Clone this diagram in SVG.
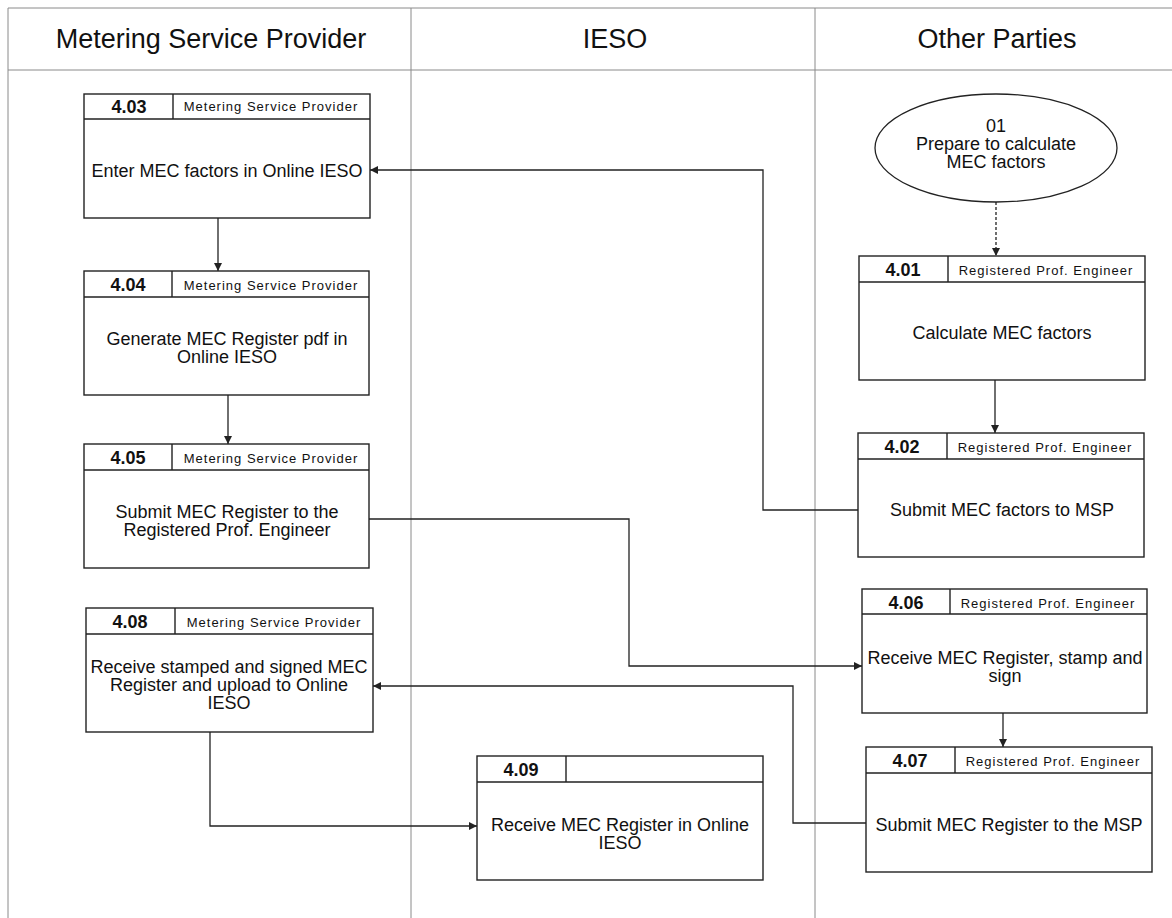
<svg xmlns="http://www.w3.org/2000/svg" width="1172" height="918" viewBox="0 0 1172 918">
<defs>
<style>
.lane{fill:none;stroke:#8a8a8a;stroke-width:1}
.lt{font-family:"Liberation Sans",Arial,sans-serif;font-size:27px;fill:#111;text-anchor:middle}
.box{fill:#fff;stroke:#222;stroke-width:1.4}
.num{font-family:"Liberation Sans",Arial,sans-serif;font-size:18px;font-weight:bold;fill:#111;text-anchor:middle}
.role{font-family:"Liberation Sans",Arial,sans-serif;font-size:13px;letter-spacing:1px;fill:#111;text-anchor:middle}
.body{font-family:"Liberation Sans",Arial,sans-serif;font-size:18px;fill:#111;text-anchor:middle}
.con{fill:none;stroke:#222;stroke-width:1.3;marker-end:url(#ah)}
</style>
<marker id="ah" viewBox="0 0 10 10" refX="10" refY="5" markerWidth="8" markerHeight="8" markerUnits="userSpaceOnUse" orient="auto">
<path d="M0,0 L10,5 L0,10 z" fill="#222"/>
</marker>
</defs>
<rect width="1172" height="918" fill="#fff"/>
<g id="lanes">
<path class="lane" d="M8,918 V8 H1172 M8,70 H1172 M411,8 V918 M815,8 V918"/>
<text class="lt" x="211" y="48">Metering Service Provider</text>
<text class="lt" x="615" y="48">IESO</text>
<text class="lt" x="997" y="48">Other Parties</text>
</g>
<g id="connectors">
<path class="con" d="M996,202 V256" stroke-dasharray="3,2"/>
<path class="con" d="M995,380 V433"/>
<path class="con" d="M858,510 H763 V170 H370"/>
<path class="con" d="M218,218 V271"/>
<path class="con" d="M228,395 V444"/>
<path class="con" d="M369,519 H629 V666 H862"/>
<path class="con" d="M1003,713 V747"/>
<path class="con" d="M866,823 H793 V686 H373"/>
<path class="con" d="M210,732 V826 H477"/>
</g>
<g id="n01">
<ellipse cx="996" cy="148" rx="121" ry="54" fill="#fff" stroke="#222" stroke-width="1.3"/>
<text class="body" x="996" y="132">01</text>
<text class="body" x="996" y="150">Prepare to calculate</text>
<text class="body" x="996" y="168">MEC factors</text>
</g>
<g id="n403">
<rect class="box" x="84" y="94" width="286" height="124"/>
<path class="box" d="M84,119 H370 M173,94 V119"/>
<text class="num" x="129" y="113">4.03</text>
<text class="role" x="271" y="111">Metering Service Provider</text>
<text class="body" x="227" y="177">Enter MEC factors in Online IESO</text>
</g>
<g id="n404">
<rect class="box" x="84" y="271" width="285" height="124"/>
<path class="box" d="M84,297 H369 M172,271 V297"/>
<text class="num" x="128" y="291">4.04</text>
<text class="role" x="271" y="290">Metering Service Provider</text>
<text class="body" x="227" y="345">Generate MEC Register pdf in</text>
<text class="body" x="227" y="363">Online IESO</text>
</g>
<g id="n405">
<rect class="box" x="84" y="444" width="285" height="124"/>
<path class="box" d="M84,470 H369 M172,444 V470"/>
<text class="num" x="128" y="464">4.05</text>
<text class="role" x="271" y="463">Metering Service Provider</text>
<text class="body" x="227" y="518">Submit MEC Register to the</text>
<text class="body" x="227" y="536">Registered Prof. Engineer</text>
</g>
<g id="n408">
<rect class="box" x="86" y="608" width="287" height="124"/>
<path class="box" d="M86,634 H373 M175,608 V634"/>
<text class="num" x="130" y="628">4.08</text>
<text class="role" x="274" y="627">Metering Service Provider</text>
<text class="body" x="229" y="673">Receive stamped and signed MEC</text>
<text class="body" x="229" y="691">Register and upload to Online</text>
<text class="body" x="229" y="709">IESO</text>
</g>
<g id="n409">
<rect class="box" x="477" y="756" width="286" height="124"/>
<path class="box" d="M477,782 H763 M566,756 V782"/>
<text class="num" x="521" y="776">4.09</text>
<text class="body" x="620" y="831">Receive MEC Register in Online</text>
<text class="body" x="620" y="849">IESO</text>
</g>
<g id="n401">
<rect class="box" x="859" y="256" width="286" height="124"/>
<path class="box" d="M859,282 H1145 M948,256 V282"/>
<text class="num" x="903" y="276">4.01</text>
<text class="role" x="1046" y="275">Registered Prof. Engineer</text>
<text class="body" x="1002" y="339">Calculate MEC factors</text>
</g>
<g id="n402">
<rect class="box" x="858" y="433" width="286" height="124"/>
<path class="box" d="M858,459 H1144 M947,433 V459"/>
<text class="num" x="902" y="453">4.02</text>
<text class="role" x="1045" y="452">Registered Prof. Engineer</text>
<text class="body" x="1002" y="516">Submit MEC factors to MSP</text>
</g>
<g id="n406">
<rect class="box" x="862" y="589" width="285" height="124"/>
<path class="box" d="M862,614 H1147 M950,589 V614"/>
<text class="num" x="906" y="609">4.06</text>
<text class="role" x="1048" y="608">Registered Prof. Engineer</text>
<text class="body" x="1005" y="664">Receive MEC Register, stamp and</text>
<text class="body" x="1005" y="682">sign</text>
</g>
<g id="n407">
<rect class="box" x="866" y="747" width="286" height="125"/>
<path class="box" d="M866,773 H1152 M955,747 V773"/>
<text class="num" x="910" y="767">4.07</text>
<text class="role" x="1053" y="766">Registered Prof. Engineer</text>
<text class="body" x="1009" y="831">Submit MEC Register to the MSP</text>
</g>
</svg>
